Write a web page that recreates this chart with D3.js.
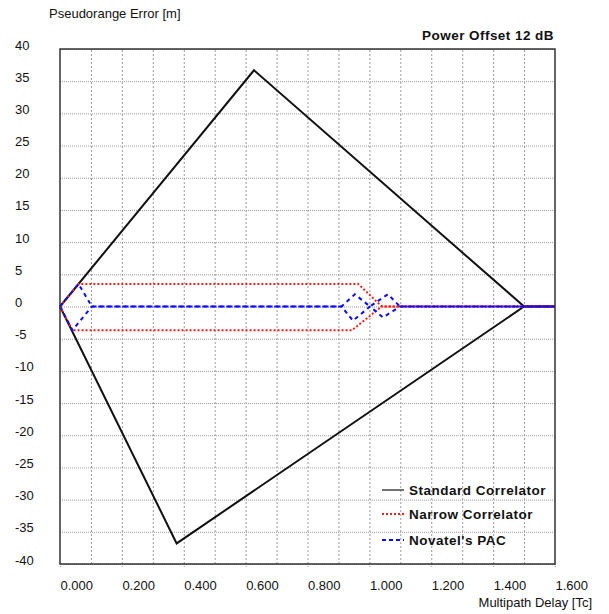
<!DOCTYPE html>
<html><head><meta charset="utf-8">
<script src="https://cdn.jsdelivr.net/npm/d3@7/dist/d3.min.js"></script>
<style>
html,body{margin:0;padding:0;background:#fff;}
text{font-family:"Liberation Sans",Arial,sans-serif;fill:#111;}
</style></head>
<body>
<svg id="c" width="609" height="614"></svg>
<script>
// ---- data ----
const xTickValues = [0, 0.2, 0.4, 0.6, 0.8, 1.0, 1.2, 1.4, 1.6];
const xTickLabels = ["0.000","0.200","0.400","0.600","0.800","1.000","1.200","1.400","1.600"];
const xMinorValues = [0.1,0.2,0.3,0.4,0.5,0.6,0.7,0.8,0.9,1.0,1.1,1.2,1.3,1.4,1.5];
const yTickValues = [40,35,30,25,20,15,10,5,0,-5,-10,-15,-20,-25,-30,-35,-40];
const yTickLabels = ["40","35","30","25","20","15","10","5","0","-5","-10","-15","-20","-25","-30","-35","-40"];

const stdUpperX = [0, 0.627, 1.5, 1.6];
const stdUpperY = [0, 36.7, 0, 0];
const stdLowerX = [0, 0.377, 1.5, 1.6];
const stdLowerY = [0, -36.8, 0, 0];

const narrowUpperX = [0, 0.060, 0.964, 1.04, 1.6];
const narrowUpperY = [0, 3.5, 3.5, 0, 0];
const narrowLowerX = [0, 0.040, 0.943, 1.04, 1.6];
const narrowLowerY = [0, -3.7, -3.7, 0, 0];

const pacUpperX = [0, 0.060, 0.103, 0.910, 0.953, 1.002, 1.060, 1.099, 1.6];
const pacUpperY = [0, 3.5, 0, 0, 1.9, 0, 1.9, 0, 0];
const pacLowerX = [0, 0.040, 0.103, 0.910, 0.947, 1.002, 1.044, 1.099, 1.6];
const pacLowerY = [0, -3.7, 0, 0, -2.2, 0, -1.7, 0, 0];

const seriesNames = ["Standard Correlator", "Narrow Correlator", "Novatel's PAC"];

// ---- layout ----
const L = 60, R = 555, T = 49, B = 564;
const svg = d3.select("#c");
const x = d3.scaleLinear().domain([0, 1.6]).range([L, R]);
const y = d3.scaleLinear().domain([-40, 40]).range([B, T]);

// horizontal grid
const gy = svg.append("g").attr("transform", `translate(${L},0)`)
  .call(d3.axisLeft(y).tickValues(yTickValues).tickSize(-(R - L)).tickFormat(""));
gy.select(".domain").remove();
gy.selectAll(".tick line").attr("stroke", "#9a9a9a").attr("stroke-dasharray", "1,1");

// vertical minor grid
const gx = svg.append("g").attr("transform", `translate(0,${B})`)
  .call(d3.axisBottom(x).tickValues(xMinorValues).tickSize(-(B - T)).tickFormat(""));
gx.select(".domain").remove();
gx.selectAll(".tick line").attr("stroke", "#9a9a9a").attr("stroke-dasharray", "2,2");

// major x ticks extending below axis
const gx2 = svg.append("g").attr("transform", `translate(0,${B})`)
  .call(d3.axisBottom(x).tickValues(xTickValues).tickSize(4).tickFormat((d, i) => xTickLabels[i]));
gx2.select(".domain").remove();
gx2.selectAll(".tick line").attr("stroke", "#9a9a9a").attr("stroke-dasharray", "1,1");
gx2.selectAll(".tick text")
  .attr("text-anchor", "start").attr("y", 25.5).attr("dy", 0)
  .style("font-size", "13px").style("font-family", "Liberation Sans, Arial, sans-serif").attr("fill", "#111");

// y labels
const gyl = svg.append("g")
  .call(d3.axisLeft(y).tickValues(yTickValues).tickSize(0).tickFormat((d, i) => yTickLabels[i]));
gyl.select(".domain").remove();
gyl.selectAll(".tick text")
  .attr("text-anchor", "start").attr("x", 15).attr("dy", 0).attr("y", 0)
  .style("font-size", "13px").style("font-family", "Liberation Sans, Arial, sans-serif").attr("fill", "#111");

// series
const line = d3.line().x(d => x(d[0])).y(d => y(d[1]));
const zip = (xs, ys) => xs.map((v, i) => [v, ys[i]]);

const plot = svg.append("g");
const styles = [
  {stroke: "#111", width: 2, dash: null},
  {stroke: "#ff1a1a", width: 2, dash: "2,2"},
  {stroke: "#0a0aff", width: 2, dash: "4,4"}
];
const groups = [
  [zip(stdUpperX, stdUpperY), zip(stdLowerX, stdLowerY)],
  [zip(narrowUpperX, narrowUpperY), zip(narrowLowerX, narrowLowerY)],
  [zip(pacUpperX, pacUpperY), zip(pacLowerX, pacLowerY)]
];
groups.forEach((g, gi) => {
  g.forEach(pts => {
    plot.append("path").attr("d", line(pts)).attr("fill", "none")
      .attr("stroke", styles[gi].stroke).attr("stroke-width", styles[gi].width)
      .attr("stroke-dasharray", styles[gi].dash);
  });
});

// border
svg.append("rect").attr("x", L).attr("y", T).attr("width", R - L).attr("height", B - T)
  .attr("fill", "none").attr("stroke", "#333").attr("stroke-width", 1.5);

// titles
svg.append("text").attr("x", 49).attr("y", 18).style("font-size", "13px").text("Pseudorange Error [m]");
svg.append("text").attr("x", 554).attr("y", 40).attr("text-anchor", "end")
  .style("font-size", "13.5px").style("font-weight", "bold").style("letter-spacing", "0.45px")
  .text("Power Offset 12 dB");
svg.append("text").attr("x", 592).attr("y", 607).attr("text-anchor", "end")
  .style("font-size", "13px").text("Multipath Delay [Tc]");

// legend
const legY = [490, 514, 540];
const legStyles = [
  {stroke: "#444", width: 1.5, dash: null},
  {stroke: "#ff1a1a", width: 2, dash: "2,2"},
  {stroke: "#0a0aff", width: 2, dash: "4,3"}
];
seriesNames.forEach((n, i) => {
  svg.append("line").attr("x1", 382).attr("x2", 404).attr("y1", legY[i]).attr("y2", legY[i])
    .attr("stroke", legStyles[i].stroke).attr("stroke-width", legStyles[i].width)
    .attr("stroke-dasharray", legStyles[i].dash);
  svg.append("text").attr("x", 409).attr("y", legY[i] + 5)
    .style("font-size", "13.5px").style("font-weight", "bold").style("letter-spacing", "0.5px").text(n);
});
</script>
</body></html>
